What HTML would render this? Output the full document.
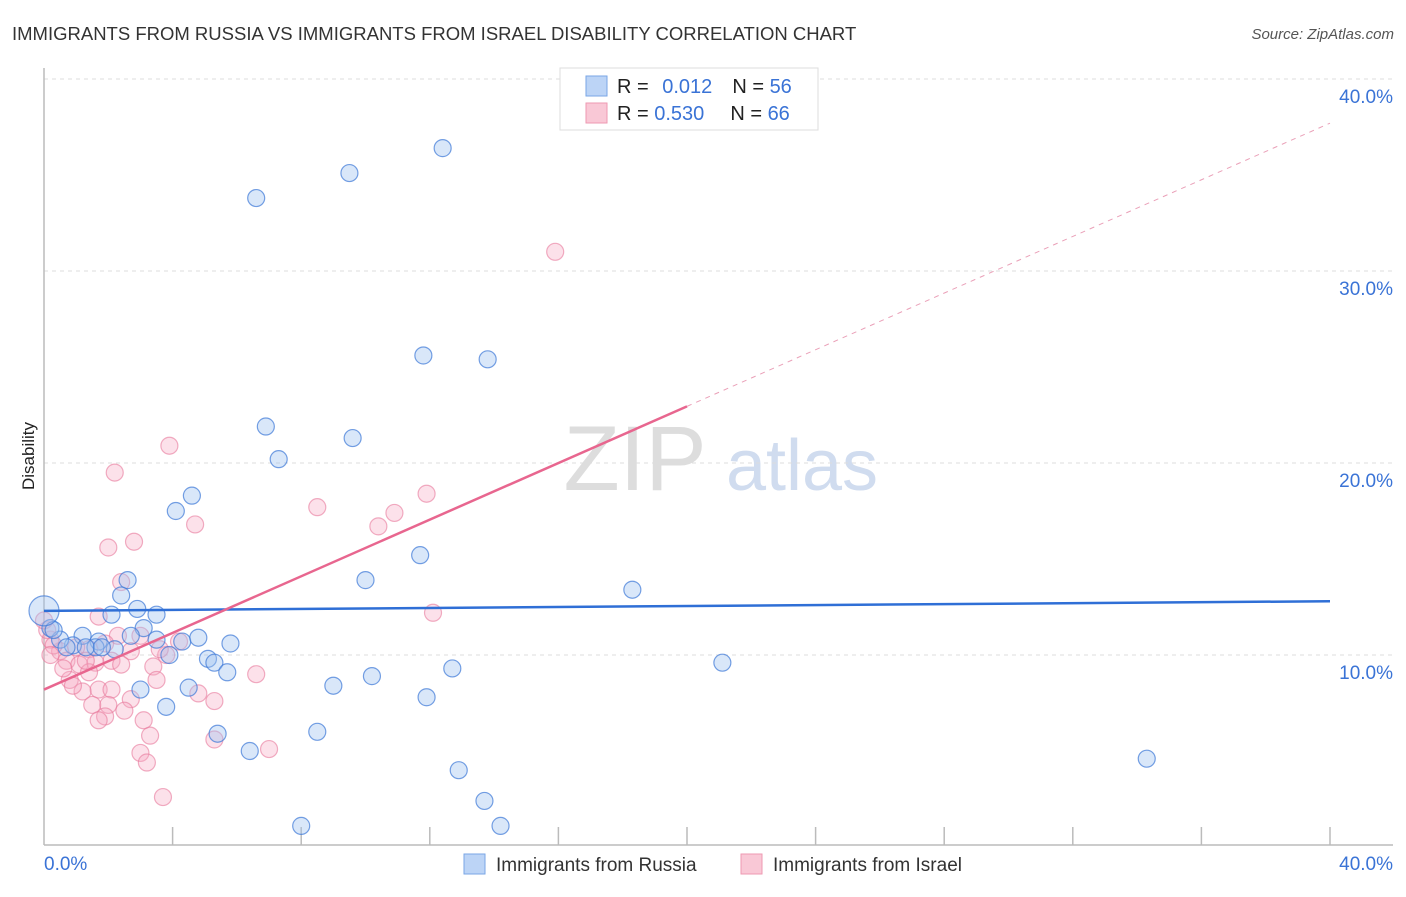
<!DOCTYPE html>
<html><head><meta charset="utf-8"><style>
body{margin:0;background:#fff;font-family:"Liberation Sans",sans-serif;}
svg text{font-family:"Liberation Sans",sans-serif;}
</style></head><body>
<svg id="chart" width="1406" height="892">
<text x="12" y="40" font-size="18.5" fill="#333">IMMIGRANTS FROM RUSSIA VS IMMIGRANTS FROM ISRAEL DISABILITY CORRELATION CHART</text>
<text x="1394" y="39" font-size="15" fill="#555" font-style="italic" text-anchor="end">Source: ZipAtlas.com</text>
<text transform="translate(34,456) rotate(-90)" font-size="17" fill="#222" text-anchor="middle">Disability</text>
<g><text x="635" y="490" font-size="92" fill="#ddd" font-family="Liberation Serif" text-anchor="middle">ZIP</text><text x="802" y="490" font-size="72" fill="#d0dcef" text-anchor="middle">atlas</text></g>
<g id="grid"></g><g id="axes"></g><g id="pts"></g><g id="trend"></g>
<g>
<rect x="560" y="68" width="258" height="62" fill="#fff" stroke="#ddd"/>
<rect x="586" y="76" width="21" height="20" fill="#bcd4f6" stroke="#7aa6e6"/>
<rect x="586" y="103" width="21" height="20" fill="#f9c8d6" stroke="#ee99b2"/>
<text x="617" y="93" font-size="20" fill="#222">R = <tspan fill="#3a73d6" dx="8">0.012</tspan><tspan dx="20" fill="#222">N = </tspan><tspan fill="#3a73d6">56</tspan></text>
<text x="617" y="120" font-size="20" fill="#222">R = <tspan fill="#3a73d6">0.530</tspan><tspan dx="26" fill="#222">N = </tspan><tspan fill="#3a73d6">66</tspan></text>
</g>
<g>
<rect x="464" y="854" width="21" height="20" fill="#bcd4f6" stroke="#7aa6e6"/>
<text x="496" y="871" font-size="19" fill="#333">Immigrants from Russia</text>
<rect x="741" y="854" width="21" height="20" fill="#f9c8d6" stroke="#ee99b2"/>
<text x="773" y="871" font-size="19" fill="#333">Immigrants from Israel</text>
</g>
</svg>
<script>
const yTicks=[10,20,30,40];
const xTickLabels=["0.0%","40.0%"];
const russiaX=[12.4,9.5,6.6,11.8,13.8,6.9,9.6,7.3,4.6,4.1,11.7,10.0,18.3,2.6,2.4,2.1,2.9,3.5,3.1,4.3,4.8,5.8,3.5,2.7,1.2,1.7,2.2,1.6,0.9,0.5,0.2,5.1,5.3,5.7,3.9,12.7,21.1,10.2,9.0,4.5,3.0,3.8,11.9,5.4,8.5,6.4,12.9,13.7,14.2,8.0,34.3,0.3,1.3,0.7,1.8];
const russiaY=[36.4,35.1,33.8,25.6,25.4,21.9,21.3,20.2,18.3,17.5,15.2,13.9,13.4,13.9,13.1,12.1,12.4,12.1,11.4,10.7,10.9,10.6,10.8,11.0,11.0,10.7,10.3,10.4,10.5,10.8,11.4,9.8,9.6,9.1,10.0,9.3,9.6,8.9,8.4,8.3,8.2,7.3,7.8,5.9,6.0,5.0,4.0,2.4,1.1,1.1,4.6,11.3,10.4,10.4,10.4];
const israelX=[15.9,3.9,2.2,4.7,8.5,11.9,10.9,10.4,2.0,2.8,2.4,1.7,12.1,3.0,2.3,4.2,3.8,2.7,1.9,1.4,1.0,0.5,0.2,0.1,0.7,1.1,1.6,2.1,2.4,3.4,6.6,1.4,0.8,1.7,2.1,1.2,1.5,2.0,2.7,3.1,1.9,1.7,3.3,5.3,4.8,5.3,7.0,3.0,3.2,3.7,0.3,0.0,0.6,0.9,1.3,3.5,2.5,3.6,0.2];
const israelY=[31.0,20.9,19.5,16.8,17.7,18.4,17.4,16.7,15.6,15.9,13.8,12.0,12.2,11.0,11.0,10.7,10.0,10.2,10.6,10.3,10.4,10.2,10.8,11.3,9.7,9.5,9.6,9.7,9.5,9.4,9.0,9.1,8.7,8.2,8.2,8.1,7.4,7.4,7.7,6.6,6.8,6.6,5.8,7.6,8.0,5.6,5.1,4.9,4.4,2.6,10.5,11.8,9.3,8.4,9.7,8.7,7.1,10.3,10.0];
const russiaTrend=[12.3,12.8];
const israelTrend=[8.2,37.7];
const X=v=>44+v/40*1286, Y=v=>847-v*19.2;
const NS="http://www.w3.org/2000/svg";
function mk(t,a,p){const e=document.createElementNS(NS,t);for(const k in a)e.setAttribute(k,a[k]);p.appendChild(e);return e;}
const grid=document.getElementById('grid'),axes=document.getElementById('axes'),pts=document.getElementById('pts'),trend=document.getElementById('trend');
yTicks.forEach(t=>{
 const l=mk('line',{x1:44,x2:1393,y1:Y(t),y2:Y(t),stroke:'#ddd','stroke-dasharray':'4,4'},grid);
 
 
 const tx=mk('text',{x:1393,y:Y(t)+24,'font-size':19,fill:'#3a73d6','text-anchor':'end'},axes);
 tx.textContent=t.toFixed(1)+'%';
 
 
});
mk('line',{x1:44,x2:44,y1:68,y2:845,stroke:'#bbb','stroke-width':1.5},axes);
mk('line',{x1:44,x2:1393,y1:845,y2:845,stroke:'#bbb','stroke-width':1.5},axes);
for(let i=1;i<=10;i++){const x=X(i*4);const t=mk('line',{x1:x,x2:x,y1:827,y2:845,stroke:'#bbb','stroke-width':1.5},axes);}
const xl0=mk('text',{x:44,y:870,'font-size':19,fill:'#3a73d6'},axes);xl0.textContent=xTickLabels[0];


const xl1=mk('text',{x:1393,y:870,'font-size':19,fill:'#3a73d6','text-anchor':'end'},axes);xl1.textContent=xTickLabels[1];


israelX.forEach((v,i)=>{const c=mk('circle',{cx:X(v),cy:Y(israelY[i]),r:8.5,fill:'rgba(246,170,195,0.35)',stroke:'rgba(232,120,155,0.6)','stroke-width':1.2},pts);
 
 });
russiaX.forEach((v,i)=>{const c=mk('circle',{cx:X(v),cy:Y(russiaY[i]),r:8.5,fill:'rgba(160,195,240,0.4)',stroke:'rgba(60,120,215,0.7)','stroke-width':1.2},pts);
 
 });
const big=mk('circle',{cx:X(0),cy:Y(12.3),r:15,fill:'rgba(160,195,240,0.4)',stroke:'rgba(60,120,215,0.7)','stroke-width':1.2},pts);


const rl=mk('line',{x1:X(0),y1:Y(russiaTrend[0]),x2:X(40),y2:Y(russiaTrend[1]),stroke:'#2f6fd6','stroke-width':2.5},trend);


const iy20=israelTrend[0]+(israelTrend[1]-israelTrend[0])/2;
const il=mk('line',{x1:X(0),y1:Y(israelTrend[0]),x2:X(20),y2:Y(iy20),stroke:'#e8668f','stroke-width':2.5},trend);


const id=mk('line',{x1:X(20),y1:Y(iy20),x2:X(40),y2:Y(israelTrend[1]),stroke:'#eaa0b8','stroke-width':1,'stroke-dasharray':'5,5'},trend);


</script>
</body></html>
